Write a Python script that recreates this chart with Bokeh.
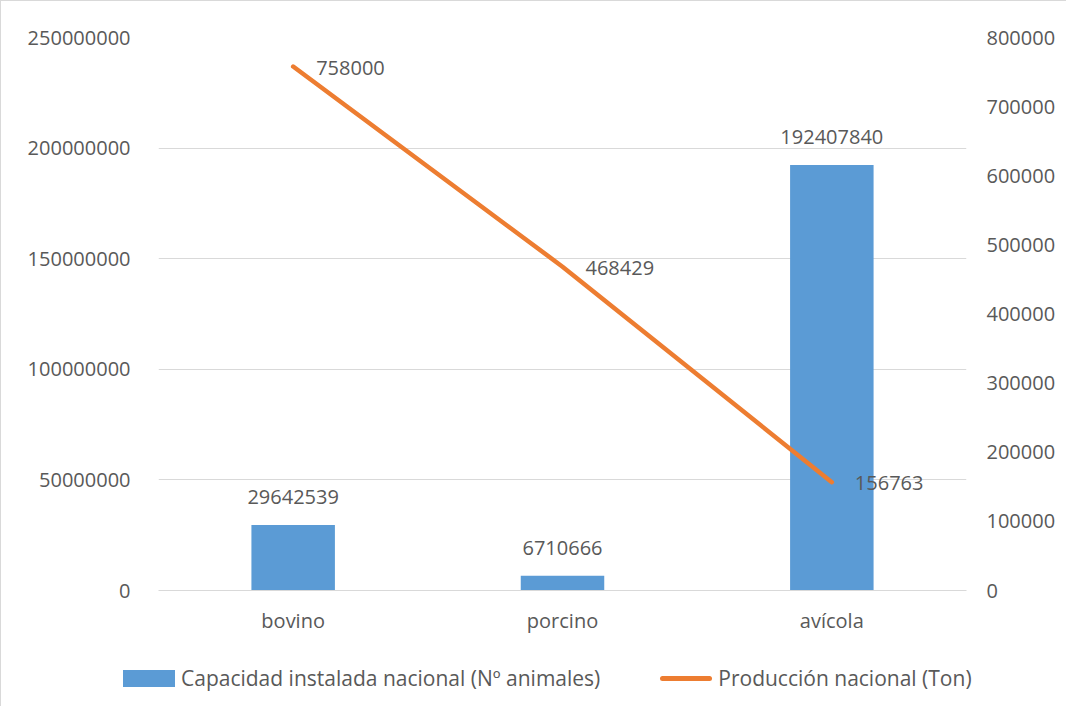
from bokeh.plotting import figure
from bokeh.layouts import column
from bokeh.models import (ColumnDataSource, Range1d, LinearAxis, Div,
                          FixedTicker, BasicTickFormatter, FactorRange)
from bokeh.core.properties import value
from bokeh.embed import file_html
from bokeh.resources import INLINE

categories = ["bovino", "porcino", "avícola"]
capacidad = [29642539, 6710666, 192407840]
produccion = [758000, 468429, 156763]
left_ticks = [0, 50000000, 100000000, 150000000, 200000000, 250000000]
right_ticks = [0, 100000, 200000, 300000, 400000, 500000, 600000, 700000, 800000]
bar_name = "Capacidad instalada nacional (Nº animales)"
line_name = "Producción nacional (Ton)"

FONT = "Open Sans"
TXT = "#595959"
GRID = "#d9d9d9"
FS = "20px"
BAR_C = "#5b9bd5"
LINE_C = "#ed7d31"

src = ColumnDataSource(dict(
    cat=categories,
    cap=capacidad,
    prod=produccion,
    cap_lbl=[str(v) for v in capacidad],
    prod_lbl=[str(v) for v in produccion],
))

p = figure(x_range=FactorRange(*categories), y_range=Range1d(0, 250000000),
           frame_width=808, frame_height=553, output_backend="svg", toolbar_location=None,
           min_border_left=157, min_border_right=93, min_border_top=36, min_border_bottom=60)
p.outline_line_color = None
p.background_fill_color = "white"
p.border_fill_color = "white"

p.extra_y_ranges = {"prod": Range1d(0, 800000)}

bars = p.vbar(x="cat", top="cap", width=0.31, source=src, fill_color=BAR_C, line_color=None)
line = p.line(x="cat", y="prod", source=src, y_range_name="prod", line_color=LINE_C,
              line_width=4.5, line_cap="round", line_join="round")

p.text(x="cat", y="cap", text="cap_lbl", source=src, text_align="center", text_baseline="bottom",
       y_offset=-21, text_font=value(FONT), text_font_size=FS, text_color=TXT)
p.text(x="cat", y="prod", text="prod_lbl", source=src, y_range_name="prod", text_align="left",
       text_baseline="middle", x_offset=23, y_offset=1, text_font=value(FONT), text_font_size=FS,
       text_color=TXT)

# left axis
ax = p.yaxis[0]
ax.ticker = FixedTicker(ticks=left_ticks)
ax.formatter = BasicTickFormatter(use_scientific=False)
ax.axis_line_color = None
ax.major_tick_line_color = None
ax.minor_tick_line_color = None
ax.major_label_standoff = 22
ax.major_label_text_font = FONT
ax.major_label_text_font_size = FS
ax.major_label_text_color = TXT

# right axis
rax = LinearAxis(y_range_name="prod", ticker=FixedTicker(ticks=right_ticks),
                 formatter=BasicTickFormatter(use_scientific=False))
rax.axis_line_color = None
rax.major_tick_line_color = None
rax.minor_tick_line_color = None
rax.major_label_standoff = 14
rax.major_label_text_font = FONT
rax.major_label_text_font_size = FS
rax.major_label_text_color = TXT
p.add_layout(rax, "right")

# x axis
xa = p.xaxis[0]
xa.axis_line_color = GRID
xa.major_tick_line_color = None
xa.minor_tick_line_color = None
xa.major_label_standoff = 10
xa.major_label_text_font = FONT
xa.major_label_text_font_size = FS
xa.major_label_text_color = TXT

p.xgrid.grid_line_color = None
p.ygrid.grid_line_color = GRID
p.ygrid.ticker = FixedTicker(ticks=left_ticks)

# legend strip below the chart
legend_html = (
    f'<div style="display:flex;align-items:center;height:46px;padding-left:117px;'
    f'font-family:\'{FONT}\';font-size:21px;color:{TXT};white-space:nowrap;">'
    f'<span style="display:inline-block;width:52px;height:17px;background:{BAR_C};"></span>'
    f'<span style="margin-left:6px;">{bar_name}</span>'
    f'<span style="display:inline-block;width:52px;height:5px;border-radius:3px;'
    f'background:{LINE_C};margin-left:60px;"></span>'
    f'<span style="margin-left:6px;">{line_name}</span>'
    f'</div>'
)
leg = Div(text=legend_html, width=1058, height=46)

layout = column(p, leg, spacing=0,
                styles={"border-top": "1px solid #d9d9d9", "border-left": "1px solid #d9d9d9"})

open("out.html", "w").write(file_html(layout, INLINE))
